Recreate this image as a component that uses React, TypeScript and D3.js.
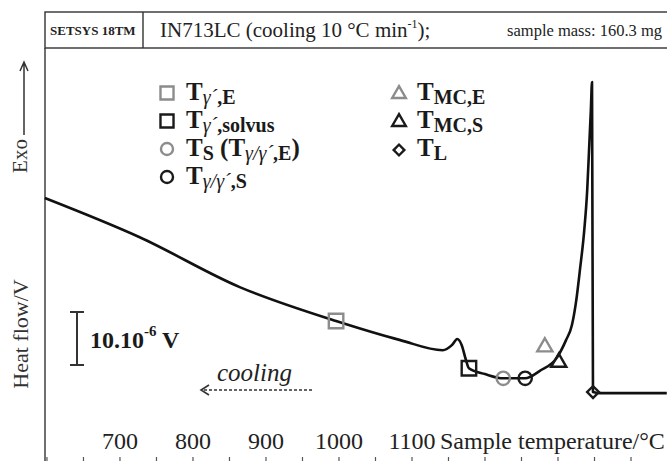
import React from "react";
import * as d3 from "d3";

// DSC cooling curve, IN713LC (temperature °C, heat flow µV)
const temps = [597, 727, 864, 996, 1084, 1142, 1155, 1162, 1168, 1174, 1178, 1200, 1225, 1255, 1275, 1299, 1311, 1319, 1325, 1330, 1336, 1340, 1342.5, 1345, 1346.6, 1347.9, 1357, 1449];
const heatFlow = [36.8, 29.4, 20.0, 13.6, 10.0, 8.1, 9.1, 10.2, 9.1, 6.2, 4.7, 3.6, 2.8, 2.8, 4.2, 6.8, 10.0, 12.8, 17.5, 23.2, 30.8, 38.3, 45.8, 53.4, 58.7, 0.2, 0, 0];

// characteristic temperatures marked on the curve
const markerTemps = [996, 1178, 1225, 1255, 1282, 1301, 1348];
const markerFlows = [13.6, 4.7, 2.8, 2.8, 8.7, 5.8, 0.2];
const markerShapes = ["square", "square", "circle", "circle", "triangle", "triangle", "diamond"];
const markerColors = ["#8c8c8c", "#1a1a1a", "#8c8c8c", "#1a1a1a", "#8c8c8c", "#1a1a1a", "#1a1a1a"];

const tickLabels = [700, 800, 900, 1000, 1100];
const minorTicks = [600, 650, 700, 750, 800, 850, 900, 950, 1000, 1050, 1100, 1150, 1200, 1250, 1300, 1350, 1400];

const W = 667;
const H = 461;
const serif = "Liberation Serif";

type Seg = { t: string; sub?: boolean; it?: boolean };

// legend labels as text runs (sub = subscript, it = italic greek)
const legendLeft: Seg[][] = [
  [{ t: "T" }, { t: "γ´", sub: true, it: true }, { t: ",E", sub: true }],
  [{ t: "T" }, { t: "γ´", sub: true, it: true }, { t: ",solvus", sub: true }],
  [{ t: "T" }, { t: "S", sub: true }, { t: " (T" }, { t: "γ/γ´", sub: true, it: true }, { t: ",E", sub: true }, { t: ")" }],
  [{ t: "T" }, { t: "γ/γ´", sub: true, it: true }, { t: ",S", sub: true }],
];
const legendRight: Seg[][] = [
  [{ t: "T" }, { t: "MC,E", sub: true }],
  [{ t: "T" }, { t: "MC,S", sub: true }],
  [{ t: "T" }, { t: "L", sub: true }],
];

function symbolPath(shape: string, big: boolean) {
  const k = big ? 1 : 0.9;
  if (shape === "square") return d3.symbol().type(d3.symbolSquare).size(210 * k * k)()!;
  if (shape === "circle") return d3.symbol().type(d3.symbolCircle).size(140 * k * k)()!;
  if (shape === "triangle") return d3.symbol().type(d3.symbolTriangle).size(100 * k * k)()!;
  return d3.symbol().type(d3.symbolSquare).size(70 * k * k)()!;
}

function Marker({ shape, color, cx, cy, big = true }: { shape: string; color: string; cx: number; cy: number; big?: boolean }) {
  const rot = shape === "diamond" ? 45 : 0;
  return (
    <path
      d={symbolPath(shape, big)}
      transform={`translate(${cx},${cy}) rotate(${rot})`}
      fill="none"
      stroke={color}
      strokeWidth={2.4}
    />
  );
}

function Label({ segs, x, y }: { segs: Seg[]; x: number; y: number }) {
  let down = false;
  return (
    <text x={x} y={y} fontFamily={serif} fontWeight="bold" fontSize={25} fill="#1a1a1a">
      {segs.map((s, i) => {
        let dy = 0;
        if (s.sub && !down) { dy = 4; down = true; }
        else if (!s.sub && down) { dy = -4; down = false; }
        return (
          <tspan
            key={i}
            dy={dy}
            fontSize={s.sub ? 20 : 25}
            fontStyle={s.it ? "italic" : "normal"}
            fontWeight={s.it ? "normal" : "bold"}
          >
            {s.t}
          </tspan>
        );
      })}
    </text>
  );
}

export default function App() {
  const x = d3.scaleLinear().domain([597.3, 1449.3]).range([45, W]);
  const y = d3.scaleLinear().domain([-12.8, 65.1]).range([H, 48]);

  const pts = temps.map((t, i) => [t, heatFlow[i]] as [number, number]);
  const line = d3
    .line<[number, number]>()
    .x((d) => x(d[0]))
    .y((d) => y(d[1]))
    .curve(d3.curveMonotoneX);

  const rowsY = [93, 121, 149, 177];
  const leftMarkers = [0, 1, 2, 3];
  const rightMarkers = [4, 5, 6];

  return (
    <svg width={W} height={H} style={{ position: "absolute", left: 0, top: 0, background: "#fff" }}>
      {/* header box */}
      <rect x={45} y={12} width={W - 44} height={36} fill="none" stroke="#333" strokeWidth={1.4} />
      <line x1={143} x2={143} y1={12} y2={48} stroke="#333" strokeWidth={1.4} />
      <text x={50} y={35} fontFamily={serif} fontWeight="bold" fontSize={13} fill="#222">SETSYS 18TM</text>
      <text x={160} y={37} fontFamily={serif} fontSize={21} fill="#222">
        IN713LC (cooling 10 °C min<tspan fontSize={12} dy={-9}>-1</tspan><tspan dy={9}>);</tspan>
      </text>
      <text x={662} y={36} textAnchor="end" fontFamily={serif} fontSize={16.5} fill="#222">sample mass: 160.3 mg</text>

      {/* y axis line */}
      <line x1={45} x2={45} y1={48} y2={H} stroke="#333" strokeWidth={1.4} />
      <text transform="translate(27,156) rotate(-90)" textAnchor="middle" fontFamily={serif} fontSize={21} fill="#333">Exo</text>
      <path d="M24,135 L24,62 M20,71 L24,62 L28,71" fill="none" stroke="#333" strokeWidth={1.5} />
      <text transform="translate(28,334) rotate(-90)" textAnchor="middle" fontFamily={serif} fontSize={22} fill="#333">Heat flow/V</text>

      {/* bottom ticks and labels */}
      {minorTicks.map((t) => (
        <line key={t} x1={x(t)} x2={x(t)} y1={457} y2={H} stroke="#555" strokeWidth={1.2} />
      ))}
      {tickLabels.map((t) => (
        <text key={t} x={x(t)} y={449} textAnchor="middle" fontFamily={serif} fontSize={24} fill="#222">{t}</text>
      ))}
      <text x={x(1100) + 28} y={449} fontFamily={serif} fontSize={24} fill="#222">Sample temperature/°C</text>

      {/* curve */}
      <path d={line(pts)!} fill="none" stroke="#111" strokeWidth={2.6} strokeLinejoin="round" />

      {/* markers on the curve */}
      {markerTemps.map((t, i) => (
        <Marker key={i} shape={markerShapes[i]} color={markerColors[i]} cx={x(t)} cy={y(markerFlows[i])} />
      ))}

      {/* legend */}
      {leftMarkers.map((m, r) => (
        <g key={m}>
          <Marker shape={markerShapes[m]} color={markerColors[m]} cx={167} cy={rowsY[r]} big={false} />
          <Label segs={legendLeft[r]} x={186} y={rowsY[r] + 7} />
        </g>
      ))}
      {rightMarkers.map((m, r) => (
        <g key={m}>
          <Marker shape={markerShapes[m]} color={markerColors[m]} cx={399} cy={rowsY[r] + 1} big={false} />
          <Label segs={legendRight[r]} x={417} y={rowsY[r] + 7} />
        </g>
      ))}

      {/* scale bar */}
      <path d="M77,312 L77,365 M70,312 L84,312 M70,365 L84,365" stroke="#333" strokeWidth={2} fill="none" />
      <text x={90} y={348} fontFamily={serif} fontWeight="bold" fontSize={24} fill="#1a1a1a">
        10.10<tspan fontSize={15} dy={-12}>-6</tspan><tspan dy={12}> V</tspan>
      </text>

      {/* cooling direction */}
      <text x={217} y={381} fontFamily={serif} fontStyle="italic" fontSize={25} fill="#222">cooling</text>
      <path d="M312,390 L203,390" stroke="#333" strokeWidth={1.6} strokeDasharray="3,2" fill="none" />
      <path d="M209,385 L201,390 L209,395" stroke="#333" strokeWidth={1.6} fill="none" />
    </svg>
  );
}
